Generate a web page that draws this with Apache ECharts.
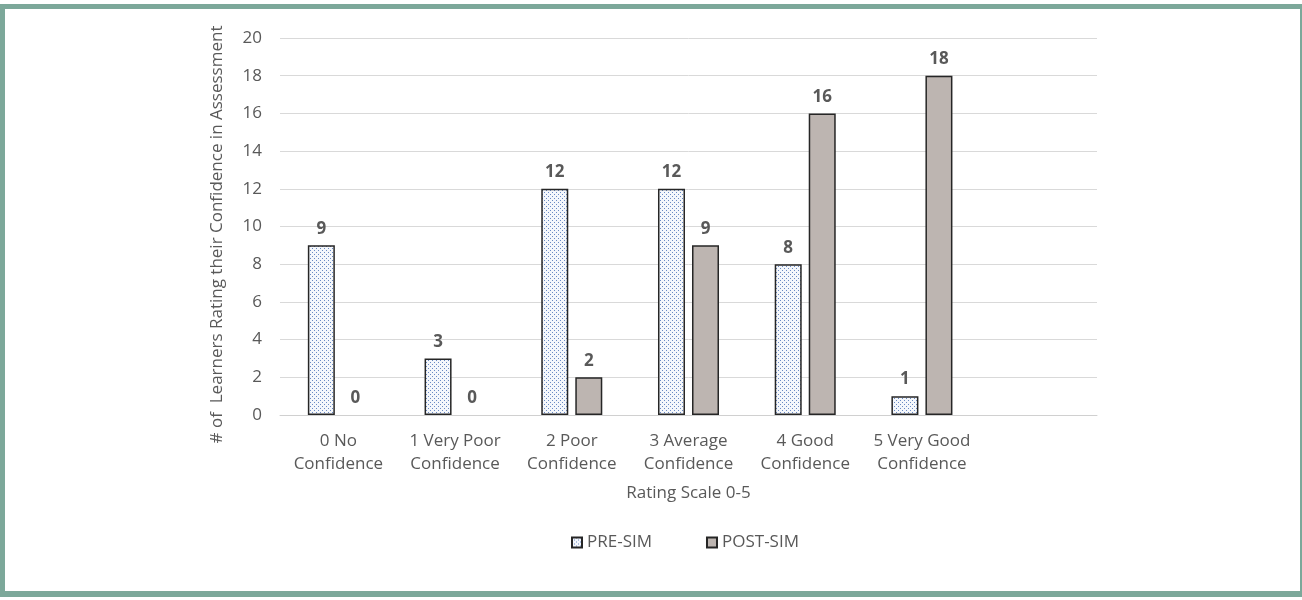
<!DOCTYPE html>
<html>
<head>
<meta charset="utf-8">
<script src="https://cdn.jsdelivr.net/npm/echarts@6/dist/echarts.min.js"></script>
<style>
  html, body { margin: 0; padding: 0; background: #ffffff; }
  #chart { width: 1302px; height: 600px; }
</style>
</head>
<body>
<div id="chart"></div>
<script>
// Rating categories (last slot left empty, as in the original workbook range)
const categories = [
  '0 No\nConfidence',
  '1 Very Poor\nConfidence',
  '2 Poor\nConfidence',
  '3 Average\nConfidence',
  '4 Good\nConfidence',
  '5 Very Good\nConfidence',
  ''
];
const preSim = [9, 3, 12, 12, 8, 1, null];
const postSim = [0, 0, 2, 9, 16, 18, null];
const yTicks = { min: 0, max: 20, interval: 2 };

const textColor = '#595959';
const fontFamily = '"Open Sans", "Noto Sans", sans-serif';

// Dotted fill for the PRE-SIM bars
function dotPattern() {
  const c = document.createElement('canvas');
  c.width = 4; c.height = 4;
  const ctx = c.getContext('2d');
  ctx.fillStyle = '#f4f7fc';
  ctx.fillRect(0, 0, 4, 4);
  ctx.fillStyle = '#6a8ac4';
  ctx.fillRect(0, 0, 1, 1);
  ctx.fillRect(2, 2, 1, 1);
  return c;
}

// Zero-height bars get no outline, so only their value label shows
function barData(values) {
  return values.map(v => (v === 0 ? { value: v, itemStyle: { borderWidth: 0 } } : v));
}

const chart = echarts.init(document.getElementById('chart'), null, { renderer: 'canvas' });

const frameColor = '#7ca89a';

const barLabel = {
  show: true, position: 'top', distance: 8,
  color: textColor, fontWeight: 'bold', fontSize: 17, fontFamily: fontFamily
};

chart.setOption({
  animation: false,
  backgroundColor: '#ffffff',
  textStyle: { fontFamily: fontFamily, color: textColor },
  graphic: [
    { type: 'rect', shape: { x: 0, y: 4, width: 5, height: 593 }, style: { fill: frameColor }, silent: true },
    { type: 'rect', shape: { x: 0, y: 4, width: 1302, height: 5 }, style: { fill: frameColor }, silent: true },
    { type: 'rect', shape: { x: 0, y: 591, width: 1302, height: 6 }, style: { fill: frameColor }, silent: true },
    { type: 'rect', shape: { x: 1300, y: 4, width: 2, height: 593 }, style: { fill: frameColor }, silent: true }
  ],
  grid: { left: 280, right: 205, top: 38, bottom: 185, containLabel: false },
  legend: {
    top: 529,
    left: 566,
    itemWidth: 10,
    itemHeight: 10,
    itemGap: 54,
    icon: 'rect',
    textStyle: { color: textColor, fontSize: 17, fontFamily: fontFamily },
    data: ['PRE-SIM', 'POST-SIM']
  },
  xAxis: {
    type: 'category',
    data: categories,
    axisTick: { show: false },
    axisLine: { lineStyle: { color: '#d0d0d0', width: 1 } },
    axisLabel: {
      color: textColor, fontSize: 17, lineHeight: 23, margin: 15,
      interval: 0, fontFamily: fontFamily
    },
    name: 'Rating Scale 0-5',
    nameLocation: 'middle',
    nameGap: 70,
    nameTextStyle: { color: textColor, fontSize: 17, fontFamily: fontFamily }
  },
  yAxis: {
    type: 'value',
    min: yTicks.min,
    max: yTicks.max,
    interval: yTicks.interval,
    axisLine: { show: false },
    axisTick: { show: false },
    splitLine: { lineStyle: { color: '#d9d9d9', width: 1 } },
    axisLabel: { color: textColor, fontSize: 17, margin: 18, fontFamily: fontFamily },
    name: '# of  Learners Rating their Confidence in Assessment',
    nameLocation: 'middle',
    nameGap: 54,
    nameTextStyle: { color: textColor, fontSize: 17, fontFamily: fontFamily, padding: [0, 16, 0, 0] }
  },
  series: [
    {
      name: 'PRE-SIM',
      type: 'bar',
      data: barData(preSim),
      barWidth: 27,
      barGap: '26%',
      itemStyle: {
        color: { image: dotPattern(), repeat: 'repeat' },
        borderColor: '#262626',
        borderWidth: 1.5
      },
      label: barLabel
    },
    {
      name: 'POST-SIM',
      type: 'bar',
      data: barData(postSim),
      barWidth: 27,
      barGap: '26%',
      itemStyle: {
        color: '#bdb5b1',
        borderColor: '#262626',
        borderWidth: 1.5
      },
      label: barLabel
    }
  ]
});
</script>
</body>
</html>
